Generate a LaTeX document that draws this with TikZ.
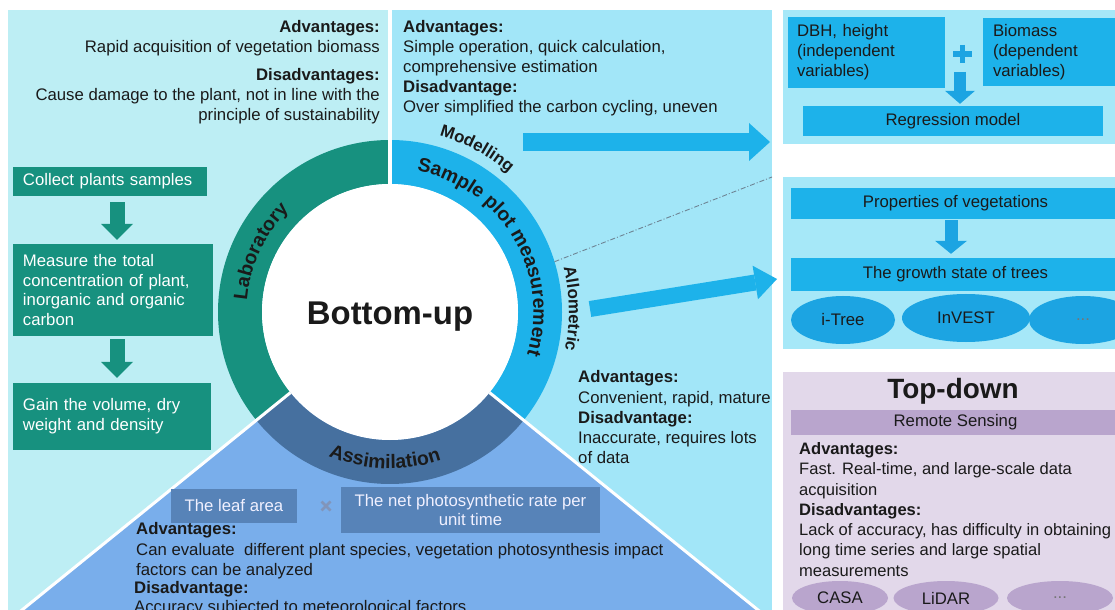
\documentclass[tikz,border=0pt]{standalone}
\usepackage{fontspec}
\setmainfont{Liberation Sans}
\usetikzlibrary{calc,arrows.meta,decorations.text,shapes.geometric}
\definecolor{palecyan}{HTML}{BDEEF4}
\definecolor{midcyan}{HTML}{A2E6F8}
\definecolor{rcyan}{HTML}{A6E8F8}
\definecolor{skyb}{HTML}{1DB2EA}
\definecolor{skyd}{HTML}{1CA4E2}
\definecolor{tealc}{HTML}{17917F}
\definecolor{assimring}{HTML}{46709F}
\definecolor{wedgeb}{HTML}{79AEEB}
\definecolor{wbox}{HTML}{5783B8}
\definecolor{lav}{HTML}{E2D8EA}
\definecolor{lavbar}{HTML}{B9A5CD}
\definecolor{txt}{HTML}{1A1A1A}
\definecolor{dashg}{HTML}{6E8494}
\definecolor{crossc}{HTML}{8195BA}
\newcommand\bodyfont{\fontsize{16.8}{20}\selectfont}
\newcommand\ringfont{\bfseries\fontsize{19.5}{19.5}\selectfont}
\newcommand\outfont{\bfseries\fontsize{17}{17}\selectfont}
\tikzset{
  tbox/.style={fill=tealc, text=white, font=\bodyfont, inner sep=0pt, align=left},
  rbox/.style={fill=skyb, text=txt, font=\bodyfont, inner sep=0pt, align=left},
  rell/.style={ellipse, fill=skyd, text=txt, font=\bodyfont, inner sep=0pt},
  pell/.style={ellipse, fill=lavbar, text=txt, font=\bodyfont, inner sep=0pt},
  wbx/.style={fill=wbox, text=white!94!blue, font=\bodyfont, inner sep=0pt, align=center},
  para/.style={text=txt, font=\bodyfont, inner sep=0pt, align=left, anchor=north west},
  tealarr/.style={draw=tealc, line width=15bp, -{Triangle[length=16bp,width=32bp,line width=0pt]}},
  bluearr/.style={draw=skyd, line width=12bp, -{Triangle[length=13bp,width=30bp,line width=0pt]}},
  bigarr/.style={draw=skyb, line width=18bp, -{Triangle[length=21bp,width=38bp,line width=0pt]}},
  ringtext/.style={decorate, decoration={text along path, text align=center, text color=txt, text={#1}}}
}
\begin{document}
\begin{tikzpicture}[x=1bp,y=-1bp]
\useasboundingbox (0,0) rectangle (1115,610);
\clip (0,0) rectangle (1115,610);
\fill[white] (0,0) rectangle (1115,610);
% panels
\fill[palecyan] (8,10) rectangle (388,610);
\fill[midcyan] (392,10) rectangle (772,610);
\fill[rcyan] (783,10) rectangle (1115,144);
\fill[rcyan] (783,177) rectangle (1115,349);
\fill[lav] (783,372) rectangle (1115,610);
% wedge
\coordinate (C) at (390,312);
\fill[wedgeb] (C) -- ($(C)+(141:600)$) -- ($(C)+(39:600)$) -- cycle;
% ring
\fill[tealc] ($(C)+(-90:172)$) arc[start angle=-90,end angle=-219,radius=172] -- ($(C)+(-219:128)$) arc[start angle=-219,end angle=-90,radius=128] -- cycle;
\fill[skyb] ($(C)+(-90:172)$) arc[start angle=-90,end angle=39,radius=172] -- ($(C)+(39:128)$) arc[start angle=39,end angle=-90,radius=128] -- cycle;
\fill[assimring] ($(C)+(39:172)$) arc[start angle=39,end angle=141,radius=172] -- ($(C)+(141:128)$) arc[start angle=141,end angle=39,radius=128] -- cycle;
\fill[white] (C) circle[radius=128];
\draw[white,line width=4bp] (390,10) -- ($(C)+(-90:128)$);
\draw[white,line width=3bp] ($(C)+(141:128)$) -- ($(C)+(141:600)$);
\draw[white,line width=3bp] ($(C)+(39:128)$) -- ($(C)+(39:600)$);
% ring texts
\path[ringtext={|\ringfont|Laboratory}] ($(C)+(-190:143.5)$) arc[start angle=-190,end angle=-120,radius=143.5];
\path[ringtext={|\ringfont|Sample plot measurement}] ($(C)+(-96:143.5)$) arc[start angle=-96,end angle=34,radius=143.5];
\path[ringtext={|\ringfont|Assimilation}] ($(C)+(130:156.5)$) arc[start angle=130,end angle=54,radius=156.5];
\path[ringtext={|\outfont|Modelling}] ($(C)+(-80:183)$) arc[start angle=-80,end angle=-44,radius=183];
\path[ringtext={|\outfont|Allometric}] ($(C)+(-20:179)$) arc[start angle=-20,end angle=18,radius=179];
\node[font=\bfseries\fontsize{33}{33}\selectfont, text=txt] (BU) at (390,317) {Bottom-up};
% dash-dot
\coordinate (dd1) at ($(C)+(-17:172)$);
\coordinate (dd2) at (772,177);
\draw[dashg, line width=0.9bp, dash pattern=on 5bp off 2bp on 1bp off 2bp] (dd1) -- (dd2);
% big arrows
\coordinate (modS) at (523,142);
\coordinate (modE) at (770,142);
\draw[bigarr] (modS) -- (modE);
\coordinate (alS) at (590,309);
\coordinate (alE) at (777,279);
\draw[bigarr, line width=16bp, -{Triangle[length=22bp,width=34bp,line width=0pt]}] (alS) -- (alE);
% left texts
\node[para, anchor=north east, align=right] (LA) at (380,20.5) {\textbf{Advantages:}\\Rapid acquisition of vegetation biomass};
\node[para, anchor=north east, align=right] (LD) at (380,68.5) {\textbf{Disadvantages:}\\Cause damage to the plant, not in line with the\\principle of sustainability};
\node[tbox, minimum width=194bp, minimum height=29bp, text width=174bp] (L1) at (110,181.5) {Collect plants samples};
\node[tbox, minimum width=200bp, minimum height=92bp, text width=180bp] (L2) at (113,290) {Measure the total\\concentration of plant,\\inorganic and organic\\carbon};
\node[tbox, minimum width=198bp, minimum height=67bp, text width=178bp] (L3) at (112,416.5) {Gain the volume, dry\\weight and density};
\draw[tealarr, shorten <=6bp, shorten >=4bp] ([xshift=7bp]L1.south) -- ([xshift=7bp]L1.south |- L2.north);
\draw[tealarr, shorten <=3bp, shorten >=5bp] ([xshift=4bp]L2.south) -- ([xshift=4bp]L2.south |- L3.north);
% middle texts
\node[para] (MA) at (403,20.5) {\textbf{Advantages:}\\Simple operation, quick calculation,\\comprehensive estimation\\\textbf{Disadvantage:}\\Over simplified the carbon cycling, uneven};
\node[para, font=\fontsize{16.8}{20.25}\selectfont] (MB) at (578,370.5) {\textbf{Advantages:}\\Convenient, rapid, mature\\\textbf{Disadvantage:}\\Inaccurate, requires lots\\of data};
% right top
\node[rbox, minimum width=157bp, minimum height=71bp, text width=139bp] (R1) at (866.5,52.5) {DBH, height\\(independent\\variables)};
\node[rbox, minimum width=137bp, minimum height=68bp, text width=117bp] (R2) at (1051.5,52) {Biomass\\(dependent\\variables)};
\node[rbox, minimum width=300bp, minimum height=30bp, align=center] (R3) at (953,121) {Regression model};
\coordinate (pl) at (962.5,54);
\draw[skyd, line width=5.5bp] ([xshift=-9.5bp]pl) -- ([xshift=9.5bp]pl);
\draw[skyd, line width=5.5bp] ([yshift=9bp]pl) -- ([yshift=-9bp]pl);
\coordinate (rA) at (960,72);
\draw[bluearr, shorten >=2bp] (rA) -- (rA |- R3.north);
% right middle
\node[rbox, minimum width=329bp, minimum height=31bp, align=center] (R4) at (955.5,203.5) {Properties of vegetations};
\node[rbox, minimum width=329bp, minimum height=33bp, align=center] (R5) at (955.5,274.5) {The growth state of trees};
\draw[bluearr, line width=13bp, -{Triangle[length=13bp,width=32bp,line width=0pt]}, shorten <=1bp, shorten >=4bp] ([xshift=-4.5bp]R4.south) -- ([xshift=-4.5bp]R5.north);
\node[rell, minimum width=104bp, minimum height=48bp] (E1) at (843,320) {i-Tree};
\node[rell, minimum width=128bp, minimum height=48bp] (E2) at (966,318) {InVEST};
\node[rell, minimum width=108bp, minimum height=48bp, text=txt!60] (E3) at (1083,320) {...};
% top-down
\node[font=\bfseries\fontsize{28}{28}\selectfont, text=txt] (TD) at (953,391) {Top-down};
\node[fill=lavbar, minimum width=329bp, minimum height=25bp, inner sep=0pt, font=\bodyfont, text=txt] (RS) at (955.5,422.5) {Remote Sensing};
\node[para, font=\fontsize{16.6}{20.3}\selectfont] (TT) at (799,442.5) {\textbf{Advantages:}\\Fast. Real-time, and large-scale data\\acquisition\\\textbf{Disadvantages:}\\Lack of accuracy, has difficulty in obtaining\\long time series and large spatial\\measurements};
\node[pell, minimum width=96bp, minimum height=34bp] (P1) at (840,598) {CASA};
\node[pell, minimum width=105bp, minimum height=34bp] (P2) at (946,598) {LiDAR};
\node[pell, minimum width=106bp, minimum height=34bp, text=txt!60] (P3) at (1060,598) {...};
% wedge content
\node[wbx, minimum width=126bp, minimum height=34bp] (W1) at (234,506) {The leaf area};
\node[wbx, minimum width=259bp, minimum height=46bp] (W2) at (470.5,510) {The net photosynthetic rate per\\unit time};
\coordinate (X) at (326,506);
\draw[crossc, line width=2.6bp] ([shift={(-4.5bp,-4.5bp)}]X) -- ([shift={(4.5bp,4.5bp)}]X);
\draw[crossc, line width=2.6bp] ([shift={(-4.5bp,4.5bp)}]X) -- ([shift={(4.5bp,-4.5bp)}]X);
\node[para, font=\fontsize{16.8}{20.5}\selectfont] (WA) at (136,522.5) {\textbf{Advantages:}\\Can evaluate\ \ different plant species, vegetation photosynthesis impact\\factors can be analyzed};
\node[para, font=\fontsize{16.8}{19}\selectfont] (WD) at (134,581.5) {\textbf{Disadvantage:}\\Accuracy subjected to meteorological factors};
\end{tikzpicture}
\end{document}
